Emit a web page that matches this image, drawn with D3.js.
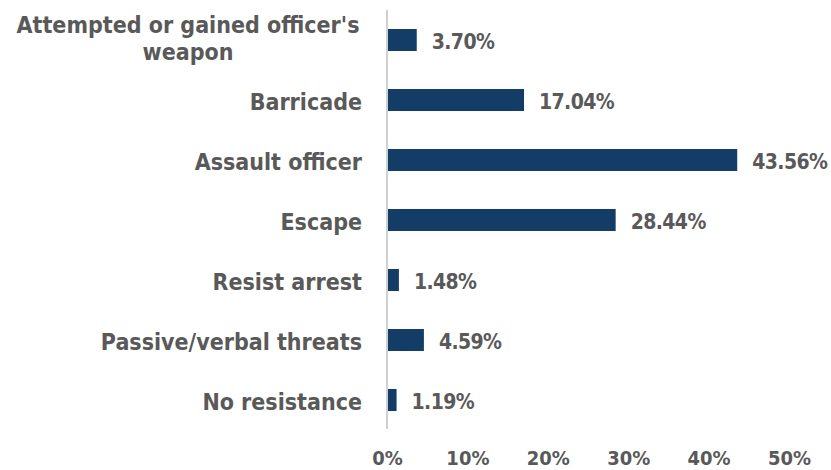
<!DOCTYPE html>
<html>
<head>
<meta charset="utf-8">
<script src="https://cdn.jsdelivr.net/npm/d3@7"></script>
<style>
  body { margin: 0; background: #fff; }
  text { font-family: "DejaVu Sans Condensed", "DejaVu Sans", sans-serif; font-weight: bold; fill: #595959; }
</style>
</head>
<body>
<div id="chart"></div>
<script>
const width = 831
const height = 470
const margin = { top: 10, bottom: 41, left: 387, right: 42 }

const categories = ["Attempted or gained officer's weapon", "Barricade", "Assault officer", "Escape", "Resist arrest", "Passive/verbal threats", "No resistance"]
const values = [3.70, 17.04, 43.56, 28.44, 1.48, 4.59, 1.19]
const ticks = [0, 10, 20, 30, 40, 50]

const data = categories.map((c, i) => ({ category: c, value: values[i] }))

const svg = d3.select("#chart").append("svg").attr("width", width).attr("height", height)
const elementGroup = svg.append("g").attr("transform", `translate(${margin.left}, ${margin.top})`)

const innerW = width - margin.left - margin.right

const x = d3.scaleLinear().domain([0, 50]).range([0, innerW])
const y = d3.scaleBand().domain(categories).range([0, 420]).paddingInner(0.633).paddingOuter(0.3165)

// x tick labels only, no axis line
const xAxis = d3.axisBottom(x).tickValues(ticks).tickFormat(d => d + "%").tickSize(0).tickPadding(0)
const xAxisGroup = svg.append("g").attr("transform", `translate(${margin.left}, ${height - 5})`).call(xAxis)
xAxisGroup.select(".domain").remove()
xAxisGroup.selectAll("text").attr("dy", 0).attr("y", 0).style("font-size", "20px").style("fill", "#595959").attr("font-family", null)

// y axis line
elementGroup.append("line")
    .attr("x1", 0).attr("x2", 0).attr("y1", 0).attr("y2", 419)
    .attr("stroke", "#bfbfbf").attr("stroke-width", 1.5)

elementGroup.selectAll("rect.bar").data(data).enter()
    .append("rect").attr("class", "bar")
    .attr("x", 1)
    .attr("y", d => y(d.category))
    .attr("width", d => x(d.value) - 1)
    .attr("height", y.bandwidth())
    .attr("fill", "#133c66")

elementGroup.selectAll("text.value").data(data).enter()
    .append("text").attr("class", "value")
    .attr("x", d => x(d.value) + 15)
    .attr("y", d => y(d.category) + y.bandwidth() / 2 + 9)
    .style("font-size", "21px")
    .style("letter-spacing", "-0.6px")
    .text(d => d.value.toFixed(2) + "%")

// category labels, first one wrapped on two lines
const labels = elementGroup.selectAll("text.cat").data(data).enter()
    .append("text").attr("class", "cat")
    .style("font-size", "23px")

labels.each(function (d, i) {
    const t = d3.select(this)
    const cy = y(d.category) + y.bandwidth() / 2
    if (i === 0) {
        t.attr("text-anchor", "middle")
        t.append("tspan").attr("x", -199).attr("y", cy - 7).text("Attempted or gained officer's")
        t.append("tspan").attr("x", -199).attr("y", cy + 20).text("weapon")
    } else {
        t.attr("text-anchor", "end").attr("x", -25).attr("y", cy + 10).text(d.category)
    }
})
</script>
</body>
</html>
